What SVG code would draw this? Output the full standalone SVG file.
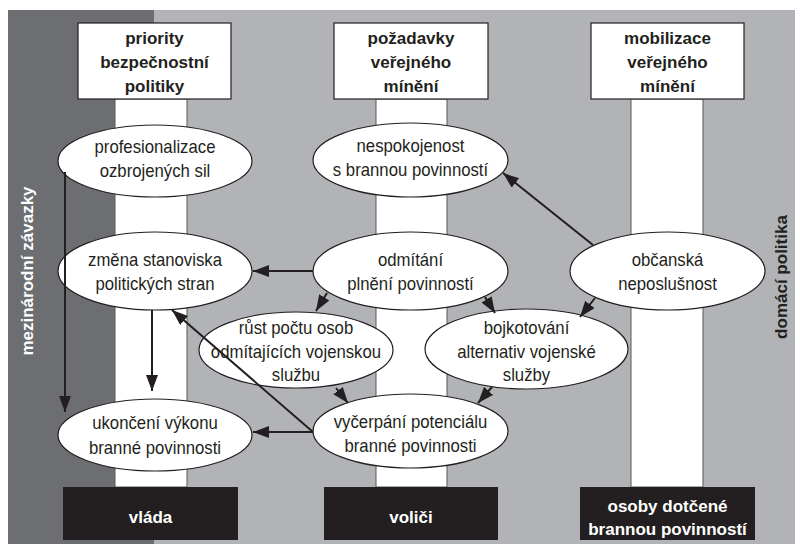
<svg xmlns="http://www.w3.org/2000/svg" width="795" height="545" viewBox="0 0 795 545">
<defs>
<marker id="ah" markerUnits="userSpaceOnUse" markerWidth="18" markerHeight="14" refX="16" refY="6" orient="auto">
<path d="M0,0 L16,6 L0,12 Z" fill="#231f20"/>
</marker>
<style>
.t{font-family:"Liberation Sans",Arial,sans-serif;font-size:17px;fill:#231f20;text-anchor:middle}
.r{font-size:18px}
.b{font-weight:bold}
.w{fill:#ffffff}
.ell{fill:#ffffff;stroke:#231f20;stroke-width:1.2}
.box{fill:#ffffff;stroke:#231f20;stroke-width:1.2}
.dbox{fill:#231f20}
.strip{fill:#ffffff;stroke:#58595b;stroke-width:1}
.c{stroke:#231f20;stroke-width:2;fill:none;marker-end:url(#ah)}
</style>
</defs>
<rect x="0" y="0" width="795" height="545" fill="#ffffff"/>
<rect x="8" y="10" width="146" height="534" fill="#6d6e71"/>
<rect x="154" y="10" width="641" height="534" fill="#b1b3b6"/>
<g id="strips">
<rect class="strip" x="115" y="99" width="72" height="388"/>
<rect class="strip" x="376" y="99" width="71" height="388"/>
<rect class="strip" x="631" y="99" width="72" height="388"/>
</g>
<g id="side-labels">
<text class="t b w" transform="translate(33,271) rotate(-90)">mezinárodní závazky</text>
<text class="t b" transform="translate(787,277) rotate(-90)">domácí politika</text>
</g>
<g id="hdr1"><rect class="box" x="78" y="23" width="153" height="76"/>
<text class="t b" x="154.5" y="44">priority</text><text class="t b" x="154.5" y="68">bezpečnostní</text><text class="t b" x="154.5" y="92">politiky</text></g>
<g id="hdr2"><rect class="box" x="334" y="23" width="154" height="76"/>
<text class="t b" x="411" y="44">požadavky</text><text class="t b" x="411" y="68">veřejného</text><text class="t b" x="411" y="92">mínění</text></g>
<g id="hdr3"><rect class="box" x="591" y="23" width="153" height="76"/>
<text class="t b" x="667.5" y="44">mobilizace</text><text class="t b" x="667.5" y="68">veřejného</text><text class="t b" x="667.5" y="92">mínění</text></g>
<g id="vlada"><rect class="dbox" x="63" y="487" width="175" height="53"/>
<text class="t b w" x="150.5" y="523">vláda</text></g>
<g id="volici"><rect class="dbox" x="324" y="487" width="174" height="53"/>
<text class="t b w" x="411" y="523">voliči</text></g>
<g id="osoby"><rect class="dbox" x="580" y="487" width="175" height="53"/>
<text class="t b w" x="667.5" y="512">osoby dotčené</text><text class="t b w" x="667.5" y="535">brannou povinností</text></g>
<g id="profesionalizace"><ellipse class="ell" cx="155" cy="161" rx="97" ry="36"/>
<g transform="scale(0.93,1)"><text class="t r" x="166.67" y="153">profesionalizace</text><text class="t r" x="166.67" y="177">ozbrojených sil</text></g></g>
<g id="nespokojenost"><ellipse class="ell" cx="410.5" cy="160" rx="97.5" ry="37"/>
<g transform="scale(0.93,1)"><text class="t r" x="441.4" y="152">nespokojenost</text><text class="t r" x="441.4" y="176">s brannou povinností</text></g></g>
<g id="zmena"><ellipse class="ell" cx="155" cy="271" rx="97" ry="39"/>
<g transform="scale(0.93,1)"><text class="t r" x="166.67" y="266">změna stanoviska</text><text class="t r" x="166.67" y="290">politických stran</text></g></g>
<g id="odmitani"><ellipse class="ell" cx="410.5" cy="271" rx="97.5" ry="39"/>
<g transform="scale(0.93,1)"><text class="t r" x="441.4" y="266">odmítání</text><text class="t r" x="441.4" y="290">plnění povinností</text></g></g>
<g id="obcanska"><ellipse class="ell" cx="667.5" cy="271" rx="97.5" ry="39"/>
<g transform="scale(0.93,1)"><text class="t r" x="717.74" y="266">občanská</text><text class="t r" x="717.74" y="290">neposlušnost</text></g></g>
<g id="rust"><ellipse class="ell" cx="296" cy="350" rx="97" ry="38"/>
<g transform="scale(0.93,1)"><text class="t r" x="318.28" y="334">růst počtu osob</text><text class="t r" x="318.28" y="358">odmítajících vojenskou</text><text class="t r" x="318.28" y="381">službu</text></g></g>
<g id="bojkotovani"><ellipse class="ell" cx="526.5" cy="349" rx="101.5" ry="40"/>
<g transform="scale(0.93,1)"><text class="t r" x="566.13" y="334">bojkotování</text><text class="t r" x="566.13" y="358">alternativ vojenské</text><text class="t r" x="566.13" y="381">služby</text></g></g>
<g id="ukonceni"><ellipse class="ell" cx="155" cy="435" rx="97" ry="36"/>
<g transform="scale(0.93,1)"><text class="t r" x="166.67" y="429">ukončení výkonu</text><text class="t r" x="166.67" y="454">branné povinnosti</text></g></g>
<g id="vycerpani"><ellipse class="ell" cx="410.5" cy="431" rx="97.5" ry="37"/>
<g transform="scale(0.93,1)"><text class="t r" x="441.4" y="428">vyčerpání potenciálu</text><text class="t r" x="441.4" y="452">branné povinnosti</text></g></g>
<g id="connectors">
<path class="c" d="M313,271 L253,271"/>
<path class="c" d="M593,245 L503,173"/>
<path class="c" d="M327,293 L316,311"/>
<path class="c" d="M485,297 L495,313"/>
<path class="c" d="M595,298 L580,317"/>
<path class="c" d="M336,388 L348,403"/>
<path class="c" d="M492,387 L478,403"/>
<path class="c" d="M313,432 L253,432"/>
<path class="c" d="M313,432 L172,310"/>
<path class="c" d="M152,310 L152,391"/>
<path class="c" d="M65,172 L65,412"/>
</g>
</svg>
